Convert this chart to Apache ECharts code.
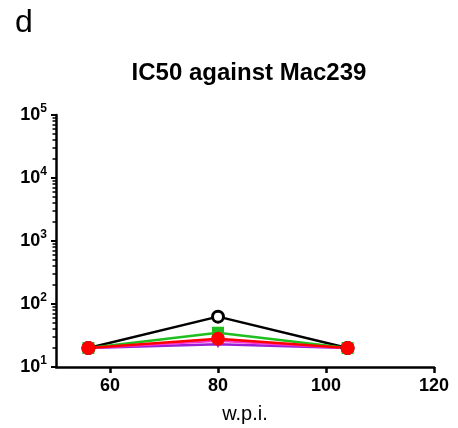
<!DOCTYPE html>
<html>
<head>
<meta charset="utf-8">
<script src="https://cdn.jsdelivr.net/npm/echarts@6/dist/echarts.min.js"></script>
<style>
  html, body { margin: 0; padding: 0; background: #fff; }
  #chart { width: 458px; height: 428px; }
</style>
</head>
<body>
<div id="chart"></div>
<script>
// weeks post infection
const wpi = [56, 80, 104];

// IC50 values per group
const blackVals = [20, 63, 20];
const purpleVals = [20, 23, 20];
const magentaVals = [20, 26, 20];
const greenVals = [20, 35, 20];
const redVals = [20, 28, 20];

const xTicks = [60, 80, 100, 120];
const yMajor = [10, 100, 1000, 10000, 100000];

// log-spaced minor ticks (2..9 of each decade)
const yMinor = [];
yMajor.slice(0, -1).forEach(function (d) {
  for (let k = 2; k <= 9; k++) yMinor.push(d * k);
});

const font = 'Liberation Sans, Arial, sans-serif';

function pts(vals) {
  return wpi.map(function (x, i) { return [x, vals[i]]; });
}

const chart = echarts.init(document.getElementById('chart'));
chart.setOption({
  animation: false,
  backgroundColor: '#fff',
  title: [
    {
      text: 'IC50 against Mac239',
      left: 244,
      textAlign: 'center',
      top: 56,
      textStyle: { fontFamily: font, fontSize: 24, fontWeight: 'bold', color: '#000' }
    },
    {
      text: 'd',
      left: 10,
      top: 2,
      textStyle: { fontFamily: font, fontSize: 32, fontWeight: 'normal', color: '#000' }
    }
  ],
  grid: { left: 56, right: 24, top: 115, bottom: 61, outerBoundsMode: 'none' },
  xAxis: {
    type: 'value',
    min: 50,
    max: 120,
    name: 'w.p.i.',
    nameLocation: 'middle',
    nameGap: 37,
    nameTextStyle: { fontFamily: font, fontSize: 20, color: '#000' },
    axisLine: { lineStyle: { color: '#000', width: 2.5 } },
    axisTick: { customValues: xTicks, length: 6, lineStyle: { color: '#000', width: 2.5 } },
    axisLabel: {
      customValues: xTicks,
      margin: 10,
      fontFamily: font, fontSize: 18, fontWeight: 'bold', color: '#000'
    },
    splitLine: { show: false }
  },
  yAxis: [
    {
      type: 'log',
      logBase: 10,
      min: 10,
      max: 100000,
      axisLine: { show: true, lineStyle: { color: '#000', width: 2.5 } },
      axisTick: { show: true, length: 5, lineStyle: { color: '#000', width: 2 } },
      axisLabel: {
        margin: 9,
        formatter: function (v) {
          return '{b|10}{s|' + Math.round(Math.log10(v)) + '}';
        },
        rich: {
          b: { fontFamily: font, fontSize: 18, fontWeight: 'bold', color: '#000' },
          s: { fontFamily: font, fontSize: 12, fontWeight: 'bold', color: '#000', verticalAlign: 'bottom', padding: [0, 0, 12, 0] }
        }
      },
      splitLine: { show: false }
    },
    {
      type: 'log',
      logBase: 10,
      min: 10,
      max: 100000,
      position: 'left',
      axisLine: { show: false },
      axisTick: { show: true, customValues: yMinor, length: 3.5, lineStyle: { color: '#000', width: 1.5 } },
      axisLabel: { show: false },
      splitLine: { show: false }
    }
  ],
  series: [
    {
      type: 'line', data: pts(blackVals), yAxisIndex: 0,
      symbol: 'circle', symbolSize: 11,
      lineStyle: { color: '#000', width: 2.5 },
      itemStyle: { color: '#fff', borderColor: '#000', borderWidth: 3 }
    },
    {
      type: 'line', data: pts(purpleVals), yAxisIndex: 0,
      symbol: 'triangle', symbolRotate: 180, symbolSize: 8,
      lineStyle: { color: '#9b1fd6', width: 2.5 },
      itemStyle: { color: '#9b1fd6' }
    },
    {
      type: 'line', data: pts(magentaVals), yAxisIndex: 0,
      symbol: 'none',
      lineStyle: { color: '#ff33cc', width: 2.5 }
    },
    {
      type: 'line', data: pts(greenVals), yAxisIndex: 0,
      symbol: 'rect', symbolSize: 12,
      lineStyle: { color: '#1fbf1f', width: 2.5 },
      itemStyle: { color: '#1fbf1f' }
    },
    {
      type: 'line', data: pts(redVals), yAxisIndex: 0,
      symbol: 'circle', symbolSize: 14,
      lineStyle: { color: '#ff0000', width: 2.5 },
      itemStyle: { color: '#ff0000' }
    }
  ]
});
</script>
</body>
</html>
